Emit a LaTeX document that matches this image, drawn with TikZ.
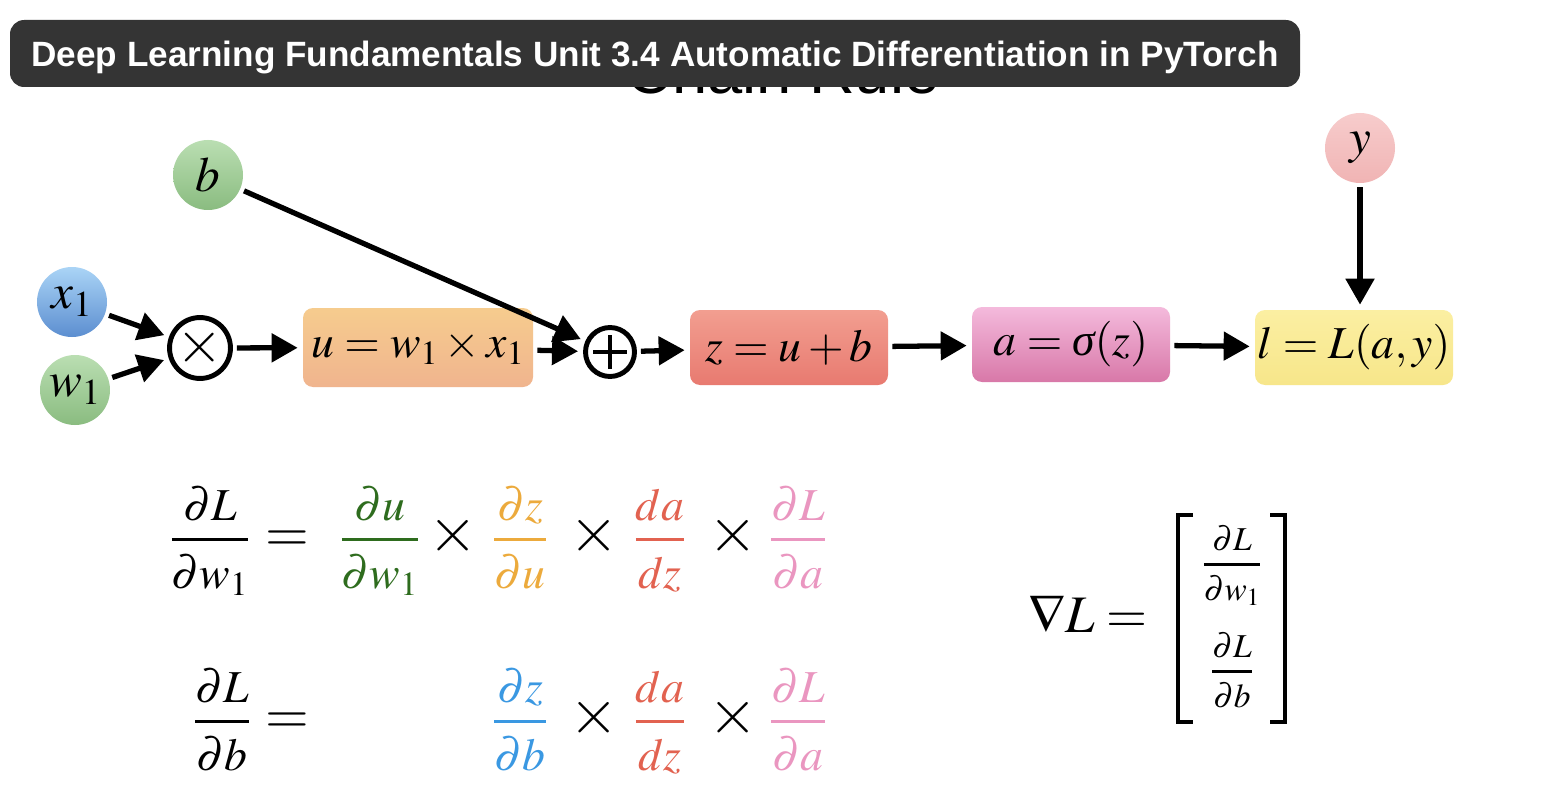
\documentclass[tikz,border=0pt]{standalone}
\usepackage{mathptmx}
\usepackage{amsmath}
\usepackage[no-math]{fontspec}
\setsansfont{Liberation Sans}
\newfontfamily\serifit{Liberation Serif Italic}
\usepackage{tikz}
\usetikzlibrary{arrows.meta, positioning, calc}
\definecolor{barbg}{RGB}{52, 52, 52}
\definecolor{greentop}{RGB}{186, 222, 178}
\definecolor{greenbot}{RGB}{138, 188, 128}
\definecolor{bluetop}{RGB}{170, 212, 246}
\definecolor{bluebot}{RGB}{92, 142, 208}
\definecolor{rosetop}{RGB}{247, 204, 204}
\definecolor{rosebot}{RGB}{240, 180, 180}
\definecolor{orangetop}{RGB}{246, 204, 142}
\definecolor{orangebot}{RGB}{240, 180, 142}
\definecolor{redtop}{RGB}{242, 158, 144}
\definecolor{redbot}{RGB}{232, 122, 112}
\definecolor{magtop}{RGB}{244, 186, 220}
\definecolor{magbot}{RGB}{216, 120, 168}
\definecolor{yeltop}{RGB}{251, 239, 162}
\definecolor{yelbot}{RGB}{247, 230, 138}
\definecolor{dgreen}{RGB}{46, 108, 30}
\definecolor{dorange}{RGB}{236, 170, 60}
\definecolor{dred}{RGB}{226, 98, 80}
\definecolor{dpink}{RGB}{234, 150, 192}
\definecolor{dblue}{RGB}{58, 152, 226}
\newcommand{\pfr}[2]{\genfrac{}{}{2pt}{0}{#1}{\rule{0pt}{0.8em}#2}}
\newcommand{\mfr}[2]{\genfrac{}{}{1.5pt}{0}{#1}{\rule{0pt}{0.8em}#2}}
\newcommand{\sigit}{\text{\serifit σ}}

\begin{document}
\begin{tikzpicture}[
  var/.style={circle, minimum size=1.4cm, inner sep=0pt, font=\fontsize{28}{28}\selectfont},
  opnode/.style={circle, draw=black, line width=2.8pt, minimum size=0.98cm, inner sep=0pt, fill=white, font=\fontsize{34}{34}\selectfont},
  plusop/.style={opnode, path picture={
      \draw[line width=2.6pt] ([xshift=-0.34cm]path picture bounding box.center) -- ([xshift=0.34cm]path picture bounding box.center)
        ([yshift=-0.34cm]path picture bounding box.center) -- ([yshift=0.34cm]path picture bounding box.center);}},
  fnbox/.style={rectangle, rounded corners=0.2cm, minimum width=3.96cm, minimum height=1.5cm, inner sep=0pt, font=\fontsize{26}{26}\selectfont},
  flow/.style={-{Triangle[length=0.52cm, width=0.56cm]}, line width=3pt, shorten >=0.1cm, shorten <=0.08cm},
  eqn/.style={anchor=base, inner sep=0pt, font=\fontsize{26}{30}\selectfont},
  bigop/.style={anchor=base, inner sep=0pt, font=\fontsize{36}{36}\selectfont},
  grad/.style={anchor=base, inner sep=0pt, font=\fontsize{19}{22}\selectfont}
]

  \useasboundingbox (0,0) rectangle (30.92,-15.88);
  \fill[white] (0,0) rectangle (30.92,-15.88);

  \node[anchor=base, inner sep=0pt, font=\sffamily\fontsize{36}{36}\selectfont] (chain) at (15.66,-1.88) {Chain Rule};
  \node[fill=barbg, rounded corners=8pt, minimum width=25.8cm, minimum height=1.34cm, inner sep=0pt,
        text=white, text height=14.4pt, text depth=0pt, font=\sffamily\bfseries\fontsize{20}{20}\selectfont]
        (title) at (13.1,-1.07) {Deep Learning Fundamentals Unit 3.4 Automatic Differentiation in PyTorch};

  \node[var, top color=bluetop, bottom color=bluebot] (x1) at (1.44,-6.04) {$x_1$};
  \node[var, top color=greentop, bottom color=greenbot] (w1) at (1.5,-7.8) {$w_1$};
  \node[var, top color=greentop, bottom color=greenbot] (b) at (4.16,-3.5) {$b$};
  \node[var, top color=rosetop, bottom color=rosebot] (y) at (27.2,-2.96) {$y$};

  \node[opnode] (mul) at (4.0,-6.96) {$\times$};
  \node[fnbox, minimum width=4.6cm, minimum height=1.58cm, top color=orangetop, bottom color=orangebot] (u) at (8.36,-6.95) {$u = w_1 \times x_1$};
  \node[plusop] (add) at (12.2,-7.04) {};
  \node[fnbox, top color=redtop, bottom color=redbot] (z) at (15.78,-6.95) {$z = u + b$};
  \node[fnbox, top color=magtop, bottom color=magbot] (act) at (21.42,-6.89) {$a = \sigit(z)$};
  \node[fnbox, top color=yeltop, bottom color=yelbot] (loss) at (27.08,-6.95) {$l = L(a, y)$};

  \draw[flow] (x1) -- (mul);
  \draw[flow] (w1) -- (mul);
  \draw[flow] (mul) -- (u);
  \draw[flow] (b) -- (add);
  \draw[flow] (u) -- (add);
  \draw[flow] (add) -- (z);
  \draw[flow] (z) -- (act);
  \draw[flow] (act) -- (loss);
  \draw[flow] (y) -- (loss.north -| y);

  \node[eqn] (lhsw) at (4.2,-11.02) {$\pfr{\partial L}{\partial w_1}$};
  \node[bigop, font=\fontsize{32}{32}\selectfont] (eqw) at (5.74,-11.02) {$=$};
  \node[eqn, text=dgreen] (duw) at (7.6,-11.02) {$\pfr{\partial u}{\partial w_1}$};
  \node[bigop] (mwa) at (9.06,-11.02) {$\times$};
  \node[eqn, text=dorange] (dzu) at (10.4,-11.02) {$\pfr{\partial z}{\partial u}$};
  \node[bigop] (mwb) at (11.88,-11.02) {$\times$};
  \node[eqn, text=dred] (dazw) at (13.2,-11.02) {$\pfr{da}{dz}$};
  \node[bigop] (mwc) at (14.66,-11.02) {$\times$};
  \node[eqn, text=dpink] (dLaw) at (15.96,-11.02) {$\pfr{\partial L}{\partial a}$};

  \node[eqn] (lhsb) at (4.44,-14.66) {$\pfr{\partial L}{\partial b}$};
  \node[bigop, font=\fontsize{32}{32}\selectfont] (eqb) at (5.74,-14.66) {$=$};
  \node[eqn, text=dblue] (dzb) at (10.4,-14.66) {$\pfr{\partial z}{\partial b}$};
  \node[bigop] (mbb) at (11.88,-14.66) {$\times$};
  \node[eqn, text=dred] (dazb) at (13.2,-14.66) {$\pfr{da}{dz}$};
  \node[bigop] (mbc) at (14.66,-14.66) {$\times$};
  \node[eqn, text=dpink] (dLab) at (15.96,-14.66) {$\pfr{\partial L}{\partial a}$};

  \node[eqn, font=\fontsize{30}{30}\selectfont] (nabla) at (21.76,-12.64) {$\nabla L =$};
  \node[grad] (gw) at (24.64,-11.46) {$\mfr{\partial L}{\partial w_1}$};
  \node[grad] (gb) at (24.64,-13.6) {$\mfr{\partial L}{\partial b}$};
  \draw[line width=2.2pt] (23.86,-10.3) -- (23.56,-10.3) -- (23.56,-14.44) -- (23.86,-14.44);
  \draw[line width=2.2pt] (25.4,-10.3) -- (25.7,-10.3) -- (25.7,-14.44) -- (25.4,-14.44);

\end{tikzpicture}
\end{document}
